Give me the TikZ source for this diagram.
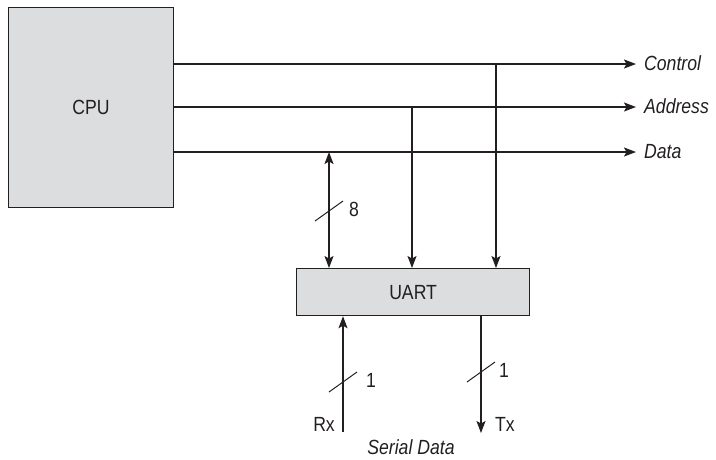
\documentclass[tikz,border=0pt]{standalone}
\usepackage{fontspec}
\setmainfont{Liberation Sans}[FakeStretch=0.86]
\usetikzlibrary{arrows.meta,calc}
\definecolor{boxgray}{HTML}{DCDDDF}
\definecolor{ink}{HTML}{231F20}
\begin{document}
\begin{tikzpicture}[x=1pt,y=-1pt,
  blk/.style={draw=ink,fill=boxgray,line width=1.2pt,inner sep=0pt},
  wire/.style={draw=ink,line width=1.4pt},
  arr/.style={wire,-{Stealth[length=12pt,width=9pt,inset=2.5pt]}},
  darr/.style={wire,{Stealth[length=12pt,width=9pt,inset=2.5pt]}-{Stealth[length=12pt,width=9pt,inset=2.5pt]}},
  lbl/.style={font=\fontsize{20.5}{23}\selectfont,text=ink,inner sep=1pt},
  ilbl/.style={lbl,font=\fontsize{20.5}{23}\selectfont\itshape},
  tick/.style={draw=ink,line width=1pt}]
\useasboundingbox (0,0) rectangle (716,459);
% blocks
\node[blk,minimum width=165pt,minimum height=200pt,anchor=north west] (cpu) at (8,7) {};
\node[lbl] (cputext) at (cpu.center) {CPU};
\node[blk,minimum width=233pt,minimum height=47pt,anchor=north west] (uart) at (296,268) {};
\node[lbl] (uarttext) at (uart.center) {UART};
% bus end coordinates
\coordinate (cend) at (636,64);
\coordinate (aend) at (636,107);
\coordinate (dend) at (636,152);
\node[ilbl,anchor=west] (ctl) at (643,63) {Control};
\node[ilbl,anchor=west] (adr) at (643,106) {Address};
\node[ilbl,anchor=west] (dat) at (643,152) {Data};
\draw[arr] (cpu.east |- cend) -- (cend);
\draw[arr] (cpu.east |- aend) -- (aend);
\draw[arr] (cpu.east |- dend) -- (dend);
% taps
\coordinate (ctap) at (496,64);
\coordinate (atap) at (412,107);
\coordinate (dtap) at (329,152);
\draw[arr] (ctap) -- (ctap |- uart.north);
\draw[arr] (atap) -- (atap |- uart.north);
\draw[darr] (dtap) -- (dtap |- uart.north);
\coordinate (t8) at (329,211);
\draw[tick] ($(t8)+(-14,10)$) -- ($(t8)+(14,-10)$);
\node[lbl,anchor=west] (n8) at (348,209) {8};
% serial
\coordinate (rx) at (343,432);
\coordinate (tx) at (481,433);
\draw[arr] (rx) -- (rx |- uart.south);
\draw[arr] (tx |- uart.south) -- (tx);
\coordinate (t1a) at (343,382);
\coordinate (t1b) at (481,372);
\draw[tick] ($(t1a)+(-14,10)$) -- ($(t1a)+(14,-10)$);
\draw[tick] ($(t1b)+(-14,10)$) -- ($(t1b)+(14,-10)$);
\node[lbl,anchor=west] (n1a) at (365,380) {1};
\node[lbl,anchor=west] (n1b) at (498,370) {1};
\node[lbl,anchor=east] (rxl) at (336,424) {Rx};
\node[lbl,anchor=west] (txl) at (494,424) {Tx};
\node[ilbl] (ser) at (411,447) {Serial Data};
\end{tikzpicture}
\end{document}
